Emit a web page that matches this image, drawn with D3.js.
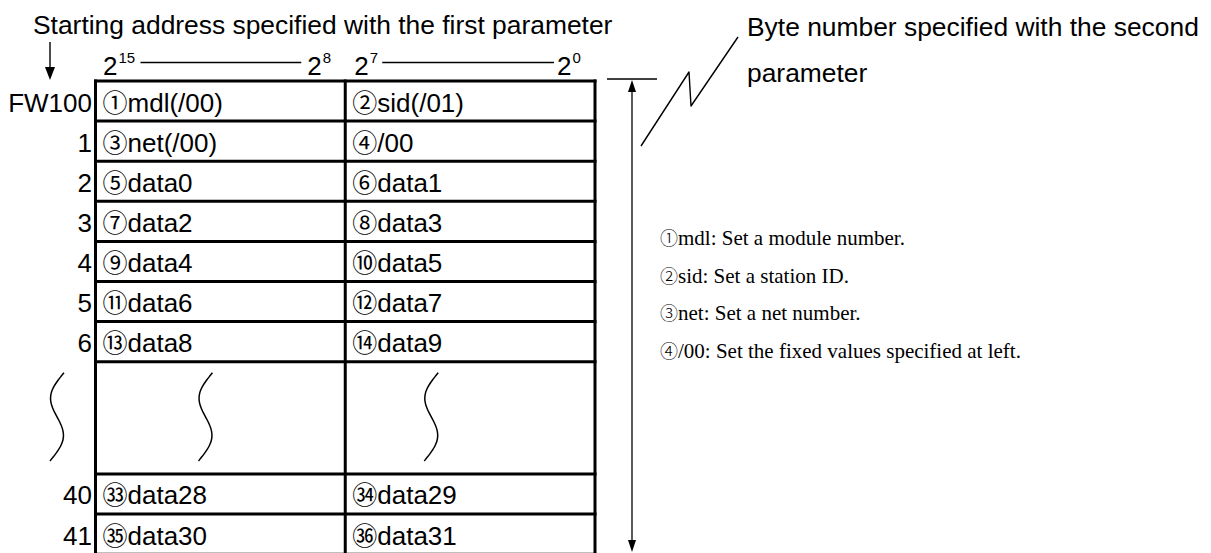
<!DOCTYPE html>
<html><head><meta charset="utf-8">
<script src="https://cdn.jsdelivr.net/npm/d3@7"></script>
<style>html,body{margin:0;padding:0;background:#fff;}svg{display:block}</style>
</head><body>
<svg id="c" width="1211" height="553"></svg>
<script>
// ---- data ----
const titleTop = "Starting address specified with the first parameter";
const titleRight = ["Byte number specified with the second", "parameter"];
const rowLabels = ["FW100", "1", "2", "3", "4", "5", "6", "", "40", "41"];
const rowSpans = [1, 1, 1, 1, 1, 1, 1, 2.8, 1, 1];
const highMarks = ["①", "③", "⑤", "⑦", "⑨", "⑪", "⑬", "", "㉝", "㉟"];
const highText = ["mdl(/00)", "net(/00)", "data0", "data2", "data4", "data6", "data8", "", "data28", "data30"];
const lowMarks = ["②", "④", "⑥", "⑧", "⑩", "⑫", "⑭", "", "㉞", "㊱"];
const lowText = ["sid(/01)", "/00", "data1", "data3", "data5", "data7", "data9", "", "data29", "data31"];
const bitExps = ["15", "8", "7", "0"];
const noteMarks = ["①", "②", "③", "④"];
const noteText = ["mdl: Set a module number.", "sid: Set a station ID.", "net: Set a net number.", "/00: Set the fixed values specified at left."];

// ---- layout ----
const svg = d3.select("#c");
const SANS = "'Liberation Sans', Arial, sans-serif";
const CJK = "'Noto Sans CJK JP', sans-serif";
const SERIF = "'Liberation Serif', 'Times New Roman', serif";

const x = d3.scaleLinear().domain([16, 0]).range([95.5, 595]);   // bit boundaries
const y = d3.scaleLinear().domain([0, 1]).range([81, 121.1]);    // row units
const starts = [0, ...d3.cumsum(rowSpans)];
const total = starts[starts.length - 1];

// title
svg.append("text").attr("x", 33).attr("y", 33.5)
  .attr("font-family", SANS).attr("font-size", 26.4).text(titleTop);

// down arrow (starting address)
const ax = x(16) - 45.5;
svg.append("line").attr("x1", ax).attr("x2", ax).attr("y1", 42).attr("y2", 70)
  .attr("stroke", "#000").attr("stroke-width", 1.4);
svg.append("path").attr("d", d3.line()([[ax - 5, 67], [ax + 5, 67], [ax, y(0) - 1]]) + "Z").attr("fill", "#000");

// bit header
const hdrX = [x(16) + 7.5, x(8) - 38, x(8) + 9, x(0) - 38];
const hdr = svg.selectAll("text.hdr").data(bitExps).join("text").attr("class", "hdr")
  .attr("x", (d, i) => hdrX[i]).attr("y", 75).attr("font-family", SANS).attr("font-size", 26);
hdr.append("tspan").text("2");
hdr.append("tspan").attr("font-size", 15).attr("dy", -12).attr("dx", 1).text(d => d);
const hdrLines = [[x(16) + 45, x(8) - 44], [x(8) + 37, x(0) - 41]];
svg.selectAll("line.hl").data(hdrLines).join("line").attr("class", "hl")
  .attr("x1", d => d[0]).attr("x2", d => d[1]).attr("y1", 62.5).attr("y2", 62.5)
  .attr("stroke", "#000").attr("stroke-width", 1.3);

// table lines
const g = svg.append("g").attr("stroke", "#000").attr("stroke-width", 3);
g.selectAll("line.h").data(starts).join("line").attr("class", "h")
  .attr("x1", x(16) - 1.5).attr("x2", x(0) + 1.5).attr("y1", d => y(d)).attr("y2", d => y(d));
g.selectAll("line.v").data([16, 8, 0]).join("line").attr("class", "v")
  .attr("x1", d => x(d)).attr("x2", d => x(d)).attr("y1", y(0) - 1.5).attr("y2", y(total));

// row labels and cells
const rows = rowLabels.map((l, i) => ({ l, i, top: y(starts[i]) }));
svg.selectAll("text.rl").data(rows).join("text").attr("class", "rl")
  .attr("x", x(16) - 3.5).attr("y", d => d.top + 30.5).attr("text-anchor", "end")
  .attr("font-family", SANS).attr("font-size", 26).text(d => d.l);

function cells(marks, texts, bit, cls) {
  const t = svg.selectAll("text." + cls).data(rows.filter(d => texts[d.i] !== "")).join("text").attr("class", cls)
    .attr("x", x(bit) + 7).attr("y", d => d.top + 30.5).attr("font-size", 26);
  t.append("tspan").attr("font-family", CJK).attr("font-size", 25).text(d => marks[d.i]);
  t.append("tspan").attr("font-family", SANS).text(d => texts[d.i]);
}
cells(highMarks, highText, 16, "hc");
cells(lowMarks, lowText, 8, "lc");

// squiggles in the gap row
const gapIdx = rowLabels.indexOf("");
const gTop = y(starts[gapIdx]) + 11, gBot = y(starts[gapIdx + 1]) - 13;
const sqX = [x(16) - 38.5, x(16) + 110, x(8) + 86];
const sq = d3.line().curve(d3.curveBasis);
svg.selectAll("path.sq").data(sqX).join("path").attr("class", "sq")
  .attr("d", cx => sq(d3.range(0, 1.0001, 1 / 24).map(t => [cx + 14 * (0.5 * Math.cos(Math.PI * t) - 0.8 * Math.sin(2 * Math.PI * t)), gTop + (gBot - gTop) * t])))
  .attr("fill", "none").attr("stroke", "#000").attr("stroke-width", 1.5);

// right dimension arrow
const rx = x(0) + 37;
svg.append("line").attr("x1", x(0) + 12).attr("x2", x(0) + 62).attr("y1", 79).attr("y2", 79)
  .attr("stroke", "#000").attr("stroke-width", 1.3);
svg.append("line").attr("x1", rx).attr("x2", rx).attr("y1", 88).attr("y2", 545)
  .attr("stroke", "#000").attr("stroke-width", 1.3);
svg.append("path").attr("d", d3.line()([[rx - 4, 92], [rx + 4, 92], [rx, 80]]) + "Z").attr("fill", "#000");
svg.append("path").attr("d", d3.line()([[rx - 4, 540], [rx + 4, 540], [rx, 552]]) + "Z").attr("fill", "#000");

// zigzag leader
const zz = [[rx + 9, 146], [rx + 57, 72], [rx + 59, 106], [rx + 106, 37]];
svg.append("path").attr("d", d3.line()(zz)).attr("fill", "none").attr("stroke", "#000")
  .attr("stroke-width", 1.4).attr("stroke-linejoin", "round");

// right title
svg.selectAll("text.rt").data(titleRight).join("text").attr("class", "rt")
  .attr("x", 747).attr("y", (d, i) => 36 + i * 46).attr("font-family", SANS).attr("font-size", 26.4).text(d => d);

// notes
const ny = d3.scaleLinear().domain([0, 3]).range([245, 357.5]);
const nt = svg.selectAll("text.nt").data(noteText).join("text").attr("class", "nt")
  .attr("x", x(0) + 65).attr("y", (d, i) => ny(i)).attr("font-size", 21);
nt.append("tspan").attr("font-family", CJK).attr("font-size", 18).attr("font-weight", 300).text((d, i) => noteMarks[i]);
nt.append("tspan").attr("font-family", SERIF).text(d => d);
</script>
</body></html>
